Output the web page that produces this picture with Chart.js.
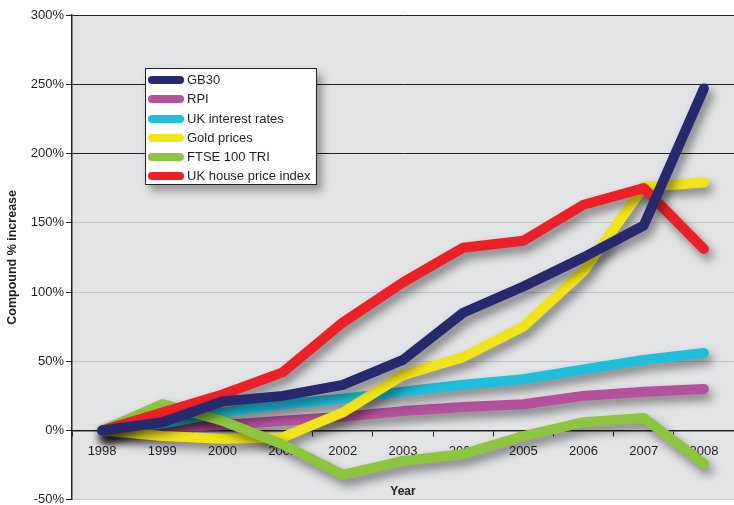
<!DOCTYPE html>
<html>
<head>
<meta charset="utf-8">
<script src="https://cdn.jsdelivr.net/npm/chart.js@4.4.0/dist/chart.umd.min.js"></script>
<style>
body{margin:0;background:#fff;font-family:"Liberation Sans",Arial,sans-serif;}
#wrap{position:relative;width:734px;height:505px;}
#legend{position:absolute;left:145px;top:68px;width:170px;height:115px;background:#fff;border:1px solid #222;box-shadow:5px 6px 8px rgba(0,0,0,0.35);}
.item{position:absolute;left:2px;height:19px;display:flex;align-items:center;font-size:13px;color:#231f20;white-space:nowrap;}
.sw{width:36px;height:8px;border-radius:4px;margin-right:3px;}
</style>
</head>
<body>
<div id="wrap">
  <canvas id="lineChart" width="734" height="505"></canvas>
  <div id="legend"></div>
</div>
<script>
// data (compound % increase since 1998)
var years = ["1998", "1999", "2000", "2001", "2002", "2003", "2004", "2005", "2006", "2007", "2008"];
var gb30 = [0, 6, 21, 25, 33, 51, 85, 104, 125, 148, 247];
var rpi = [0, 2, 4, 7, 10, 14, 17, 19, 25, 28, 30];
var interest = [0, 5, 13, 19, 23, 28, 33, 37, 44, 51, 56];
var gold = [0, -4, -6, -5, 13, 40, 53, 75, 115, 176, 179];
var ftse = [0, 19, 7, -10, -32, -22, -17, -4, 6, 9, -24];
var house = [0, 13, 26, 42, 78, 107, 132, 137, 163, 175, 131];

var seriesNames = ["GB30", "RPI", "UK interest rates", "Gold prices", "FTSE 100 TRI", "UK house price index"];
var seriesColors = ["#27296f", "#b5509c", "#1fbedc", "#f1e418", "#8cc63e", "#ed2027"];
var seriesData = [gb30, rpi, interest, gold, ftse, house];
var drawOrder = [0, 5, 4, 3, 2, 1]; // lower = drawn on top

// grey plot area
const plotBg = {
  id: 'plotBg',
  beforeDraw(chart) {
    const {ctx, chartArea: a} = chart;
    ctx.save();
    ctx.fillStyle = '#e2e3e5';
    ctx.fillRect(a.left, a.top, a.width, a.height);
    ctx.restore();
  }
};

// soft drop shadow under the lines
const lineShadow = {
  id: 'lineShadow',
  beforeDatasetsDraw(chart) {
    const c = chart.ctx;
    c.save();
    c.shadowColor = 'rgba(0,0,0,0.45)';
    c.shadowBlur = 10;
    c.shadowOffsetX = 4;
    c.shadowOffsetY = 6;
  },
  afterDatasetsDraw(chart) {
    chart.ctx.restore();
  }
};

var datasets = seriesNames.map((name, i) => ({
  label: name,
  data: seriesData[i],
  borderColor: seriesColors[i],
  backgroundColor: seriesColors[i],
  borderWidth: 10,
  pointRadius: 0,
  tension: 0,
  fill: false,
  borderCapStyle: 'round',
  borderJoinStyle: 'round',
  order: drawOrder[i]
}));

new Chart("lineChart", {
  type: "line",
  data: {
    labels: years,
    datasets: datasets
  },
  options: {
    responsive: false,
    animation: false,
    layout: {
      padding: {left: 0, right: 0, top: 15, bottom: 4}
    },
    plugins: {
      legend: {display: false},
      tooltip: {enabled: false}
    },
    scales: {
      x: {
        position: {y: 0},
        offset: true,
        grid: {
          offset: true,
          drawOnChartArea: false,
          tickLength: 5,
          color: '#222'
        },
        border: {color: '#222', width: 1.5},
        ticks: {
          color: '#231f20',
          font: {family: 'Liberation Sans', size: 13},
          padding: 8,
          maxRotation: 0,
          autoSkip: false
        },
        title: {
          display: true,
          text: 'Year',
          color: '#231f20',
          font: {family: 'Liberation Sans', size: 12, weight: 'bold'},
          padding: {top: 17, bottom: 0}
        }
      },
      y: {
        min: -50,
        max: 300,
        ticks: {
          stepSize: 50,
          callback: v => v + '%',
          color: '#231f20',
          font: {family: 'Liberation Sans', size: 13, lineHeight: 0.5},
          padding: 2
        },
        grid: {
          color: ctx => {
            var v = ctx.tick ? ctx.tick.value : null;
            if (v === 300 || v === 250 || v === 200 || v === 0) return '#222';
            return '#c5c6c8';
          },
          tickColor: '#222',
          tickLength: 6
        },
        border: {color: '#222', width: 1.5},
        title: {
          display: true,
          text: 'Compound % increase',
          color: '#231f20',
          font: {family: 'Liberation Sans', size: 12.5, weight: 'bold'},
          padding: {top: 5, bottom: 0}
        },
        afterFit: s => { s.width = 72; }
      }
    }
  },
  plugins: [plotBg, lineShadow]
});

// legend box
var legend = document.getElementById("legend");
var rowTops = [1, 20, 40, 59, 78, 97];
seriesNames.forEach((name, i) => {
  var row = document.createElement("div");
  row.className = "item";
  row.style.top = rowTops[i] + "px";
  row.innerHTML = '<span class="sw" style="background:' + seriesColors[i] + '"></span>' + name;
  legend.appendChild(row);
});
</script>
</body>
</html>
